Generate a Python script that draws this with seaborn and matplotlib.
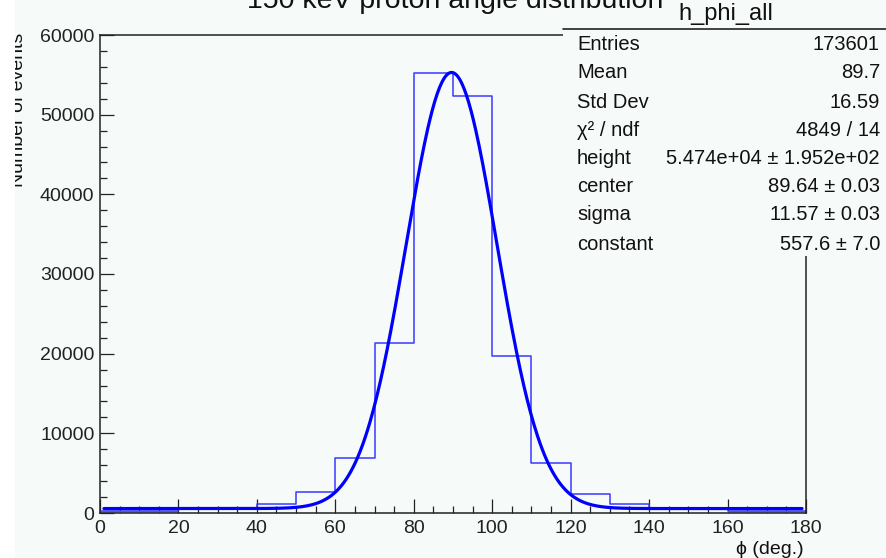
import numpy as np
import pandas as pd
import matplotlib
matplotlib.use("Agg")
import matplotlib.pyplot as plt
from matplotlib.patches import Rectangle
from matplotlib.lines import Line2D
from matplotlib.ticker import MultipleLocator
import seaborn as sns

# ---- histogram contents (10 degree bins) ----
bin_edges = [0, 10, 20, 30, 40, 50, 60, 70, 80, 90, 100, 110, 120, 130, 140, 150, 160, 170, 180]
bin_counts = [230, 230, 520, 520, 1170, 2600, 6900, 21340, 55200, 52340,
              19700, 6280, 2390, 1130, 520, 520, 230, 230]
shaded_counts = [230, 230, 0, 0, 0, 0, 0, 0, 0, 0, 0, 0, 0, 0, 0, 0, 230, 230]

# ---- fit result (gaussian + constant) ----
fit_names = ["height", "center", "sigma", "constant"]
fit_values = [5.474e4, 89.64, 11.57, 557.6]
fit_range = [1.0, 179.0]

# ---- statistics box ----
hist_name = "h_phi_all"
stat_labels = ["Entries", "Mean", "Std Dev", "\u03c7\u00b2 / ndf", "height", "center", "sigma", "constant"]
stat_texts = ["173601", "89.7", "16.59", "4849 / 14", "5.474e+04 \u00b1 1.952e+02",
              "89.64 \u00b1 0.03", "11.57 \u00b1 0.03", "557.6 \u00b1 7.0"]

title_text = "150 keV proton angle distribution"
xlabel_text = "\u03d5 (deg.)"
ylabel_text = "Number of events"

W, H = 887, 558
BG = "#f6faf8"

sns.set_theme(style="ticks")
plt.rcParams["font.family"] = ["Liberation Sans", "DejaVu Sans"]

def fx(px):
    return px / W

def fy(py):
    return 1 - py / H

fig = plt.figure(figsize=(W / 100, H / 100), dpi=100, facecolor=BG)
ax = fig.add_axes([fx(100), fy(513), fx(806) - fx(100), fy(35) - fy(513)])
ax.set_facecolor(BG)

centers = [(a + b) / 2 for a, b in zip(bin_edges[:-1], bin_edges[1:])]
hist_df = pd.DataFrame({"phi": centers, "n": bin_counts, "shade": shaded_counts})

sns.histplot(data=hist_df, x="phi", weights="shade", bins=bin_edges, element="step",
             fill=True, color="#9d9df2", alpha=1.0, linewidth=0, ax=ax)
sns.histplot(data=hist_df, x="phi", weights="n", bins=bin_edges, element="step",
             fill=False, color="#3a3aff", linewidth=1.1, ax=ax)

h, c, s, k = fit_values
xf = np.linspace(fit_range[0], fit_range[1], 600)
fit_df = pd.DataFrame({"phi": xf, "f": h * np.exp(-0.5 * ((xf - c) / s) ** 2) + k})
sns.lineplot(data=fit_df, x="phi", y="f", color="#0000ff", linewidth=2.3, ax=ax)

ax.set_xlim(0, 180)
ax.set_ylim(0, 60000)
ax.set_xlabel("")
ax.set_ylabel("")
ax.xaxis.set_major_locator(MultipleLocator(20))
ax.xaxis.set_minor_locator(MultipleLocator(5))
ax.yaxis.set_major_locator(MultipleLocator(10000))
ax.yaxis.set_minor_locator(MultipleLocator(2000))
ax.tick_params(which="both", direction="in", colors="#222222", width=0.9,
               top=False, right=False)
ax.tick_params(which="major", length=10, labelsize=14, pad=4)
ax.tick_params(which="minor", length=5)
ax.tick_params(axis="x", which="major", pad=5)
for sp in ax.spines.values():
    sp.set_visible(True)
    sp.set_color("#222222")
    sp.set_linewidth(1.1)

# title (partly beyond the top edge)
fig.text(fx(455), fy(8), title_text, ha="center", va="baseline", fontsize=20.5, color="#111111")

# axis titles
fig.text(fx(804), fy(549), xlabel_text, ha="right", va="center", fontsize=14, color="#111111")
fig.text(fx(27), fy(33), ylabel_text, rotation=90, ha="right", va="top", fontsize=14, color="#111111")

# statistics box
fig.patches.append(Rectangle((fx(563), fy(256)), fx(887) - fx(563), fy(29) - fy(256),
                             transform=fig.transFigure, facecolor=BG, edgecolor="none", zorder=2))
fig.lines.append(Line2D([fx(563), fx(887)], [fy(29), fy(29)], transform=fig.transFigure,
                        color="#222222", linewidth=1.2, zorder=3))
fig.text(fx(726), fy(14), hist_name, ha="center", va="center", fontsize=17, color="#111111")
row_y = [45, 73, 102, 130, 158, 187, 215, 244]
for lab, val, yy in zip(stat_labels, stat_texts, row_y):
    fig.text(fx(577), fy(yy), lab, ha="left", va="center", fontsize=14.5, color="#111111")
    fig.text(fx(880), fy(yy), val, ha="right", va="center", fontsize=14.5, color="#111111")

# white strip on the far left edge
fig.patches.append(Rectangle((0, 0), fx(15), 1, transform=fig.transFigure,
                             facecolor="white", edgecolor="none", zorder=5))

fig.savefig("out.png", dpi=100, facecolor=BG)
